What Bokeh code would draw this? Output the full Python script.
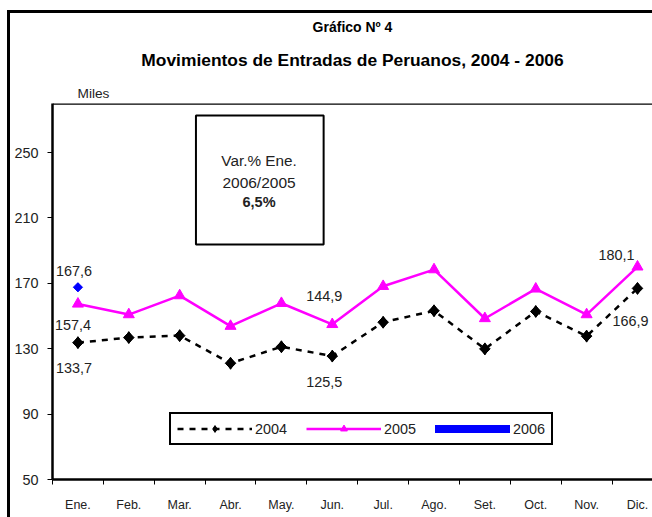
from bokeh.plotting import figure
from bokeh.models import (Range1d, FixedTicker, Title, Legend, LegendItem,
                          BoxAnnotation, Label, Span, ColumnDataSource)
from bokeh.embed import file_html
from bokeh.resources import INLINE
from bokeh.core.properties import value
import numpy as np

months = ["Ene.", "Feb.", "Mar.", "Abr.", "May.", "Jun.", "Jul.", "Ago.", "Set.", "Oct.", "Nov.", "Dic."]
y2004 = [133.7, 136.8, 138.0, 121.1, 131.2, 125.5, 146.2, 153.2, 129.9, 152.8, 137.7, 166.9]
y2005 = [157.4, 150.9, 162.5, 143.8, 157.8, 144.9, 168.2, 178.4, 148.5, 166.6, 150.9, 180.1]
y2006 = [167.6]
y_ticks = [50, 90, 130, 170, 210, 250]

# data labels: (series, month index, text)
lab_series = ["2006", "2005", "2004", "2005", "2004", "2005", "2004"]
lab_month = [0, 0, 0, 5, 5, 11, 11]
lab_text = ["167,6", "157,4", "133,7", "144,9", "125,5", "180,1", "166,9"]

FONT = "Liberation Sans, Arial, sans-serif"
TXT = "#222222"
x = list(range(len(months)))

p = figure(width=652, height=517, output_backend="svg", toolbar_location=None,
           x_range=Range1d(-0.5, 11.295), y_range=Range1d(50, 280),
           min_border_left=52, min_border_right=0, min_border_top=103, min_border_bottom=38)
p.background_fill_color = "white"
p.border_fill_color = None
p.outline_line_color = None
p.grid.visible = False
# outer chart frame (left and top edges visible)
p.styles = {
    "background-color": "white",
    "background-image": "linear-gradient(black, black), linear-gradient(black, black)",
    "background-size": "3px 2000px, 2000px 3px",
    "background-position": "7px 9.5px, 7px 9.5px",
    "background-repeat": "no-repeat",
}

# axes
p.xaxis.ticker = FixedTicker(ticks=x, minor_ticks=[i - 0.5 for i in range(13)])
p.xaxis.major_label_overrides = {i: m for i, m in enumerate(months)}
p.xaxis.major_tick_out = 0
p.xaxis.major_tick_in = 0
p.xaxis.minor_tick_out = 5
p.xaxis.minor_tick_in = 0
p.xaxis.minor_tick_line_color = "black"
p.xaxis.minor_tick_line_width = 1
p.xaxis.axis_line_width = 2.5
p.xaxis.major_label_standoff = 13
p.xaxis.major_label_text_font_size = "12.5px"
p.yaxis.ticker = FixedTicker(ticks=y_ticks, minor_ticks=[])
p.yaxis.major_tick_out = 5
p.yaxis.major_tick_in = 0
p.yaxis.axis_line_width = 2.5
p.yaxis.major_label_standoff = 9
p.yaxis.major_label_text_font_size = "14.4px"
for ax in (p.xaxis, p.yaxis):
    ax.major_label_text_font = FONT
    ax.major_label_text_color = TXT
    ax.axis_line_color = "black"
    ax.major_tick_line_color = "black"

p.add_layout(Span(location=280, dimension="width", line_color="black", line_width=2.5))

# series
x06 = x[:len(y2006)]
r04l = p.line(x, y2004, line_color="black", line_width=2.5, line_dash="6 6")
r04d = p.scatter(x, y2004, marker="diamond", size=12, fill_color="black", line_color="black")
r04m = p.scatter(x, y2004, marker="square", angle=np.pi / 4, size=7.5,
                 fill_color="black", line_color="black")
r05l = p.line(x, y2005, line_color="#FF00FF", line_width=2.5)
r05m = p.scatter(x, y2005, marker="triangle", size=11,
                 fill_color="#FF00FF", line_color="#FF00FF")
r06l = p.line(x06, y2006, line_color="#0000FF", line_width=8, line_cap="round")
r06d = p.scatter(x06, y2006, marker="diamond", size=8, fill_color="#0000FF", line_color="#0000FF")
r06m = p.scatter(x06, y2006, marker="square", angle=np.pi / 4, size=6.5,
                 fill_color="#0000FF", line_color="#0000FF")

# data labels
series_map = {"2004": y2004, "2005": y2005, "2006": y2006}
off_x = [-4, -5, -4, -8, -8, -21, -7]
off_y = [-16, 21, 25, -28, 26, -12, 33]
src = ColumnDataSource(dict(
    x=lab_month,
    y=[series_map[s][m] for s, m in zip(lab_series, lab_month)],
    t=lab_text, ox=off_x, oy=off_y))
p.text("x", "y", text="t", source=src, x_offset="ox", y_offset="oy",
       text_align="center", text_baseline="middle",
       text_font=value(FONT), text_font_size="14.4px", text_color=TXT)

# text box
p.add_layout(BoxAnnotation(left=2.32, right=4.83, top=272.6, bottom=193.7,
                           fill_color="white", fill_alpha=1,
                           line_color="black", line_alpha=1, line_dash="solid", line_width=2))
for ty, tt, st, fs in [(245.3, "Var.% Ene.", "normal", "15.3px"),
                       (231.8, "2006/2005", "normal", "15.5px"),
                       (219.5, "6,5%", "bold", "14.5px")]:
    p.add_layout(Label(x=3.56, y=ty, text=tt, text_align="center", text_baseline="middle",
                       text_font=FONT, text_font_size=fs, text_font_style=st,
                       text_color=TXT))
p.segment(x0=[2.86], y0=[240.6], x1=[4.30], y1=[240.6], line_color="black", line_width=1)

# legend
legend = Legend(items=[
    LegendItem(label="2004", renderers=[r04l, r04d]),
    LegendItem(label="2005", renderers=[r05l, r05m]),
    LegendItem(label="2006", renderers=[r06l, r06d]),
], orientation="horizontal", location=(117, 34),
    glyph_width=75, glyph_height=17, label_standoff=3, spacing=19,
    padding=6, margin=0, border_line_color="black", border_line_width=2, border_line_alpha=1,
    label_text_font=FONT, label_text_font_size="14.4px", label_text_color=TXT,
    background_fill_alpha=1)
p.add_layout(legend, "center")

# titles (first added = closest to frame)
p.add_layout(Title(text="Miles", align="left", offset=25, standoff=5, text_font=FONT,
                   text_font_size="13.7px", text_font_style="normal", text_color=TXT), "above")
p.add_layout(Title(text="Movimientos de Entradas de Peruanos, 2004 - 2006", align="center",
                   standoff=24, text_font=FONT, text_font_size="17.4px", text_font_style="bold",
                   text_color="black"), "above")
p.add_layout(Title(text="Gráfico Nº 4", align="center", standoff=2, text_font=FONT,
                   text_font_size="14px", text_font_style="bold", text_color="black"), "above")

open("out.html", "w").write(file_html(p, INLINE))
